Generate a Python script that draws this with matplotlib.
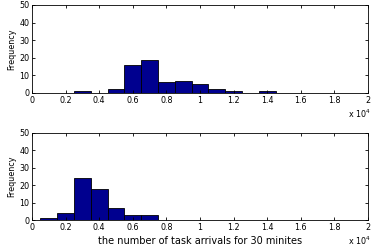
import matplotlib
matplotlib.use("Agg")
import matplotlib.pyplot as plt
from matplotlib.transforms import offset_copy

# Data (bin centers in units of 10^4, counts)
top_centers = [0.3, 0.5, 0.6, 0.7, 0.8, 0.9, 1.0, 1.1, 1.2, 1.4]
top_counts = [1, 2, 16, 19, 6, 7, 5, 2, 1, 1]
bot_centers = [0.1, 0.2, 0.3, 0.4, 0.5, 0.6, 0.7]
bot_counts = [1, 4, 24, 18, 7, 3, 3]
xticks = [0, 0.2, 0.4, 0.6, 0.8, 1.0, 1.2, 1.4, 1.6, 1.8, 2.0]
xticklabels = ["0", "0.2", "0.4", "0.6", "0.8", "1", "1.2", "1.4", "1.6", "1.8", "2"]
yticks = [0, 10, 20, 30, 40, 50]

W, H = 373, 250
fig = plt.figure(figsize=(W / 100, H / 100), dpi=100)
plt.rcParams['font.family'] = ['DejaVu Sans']
fs = 5.8

def setup(ax, centers, counts):
    ax.bar(centers, counts, width=0.1, color='#00008f', edgecolor='black', linewidth=0.6)
    ax.set_xlim(0, 2)
    ax.set_ylim(0, 50)
    ax.set_xticks(xticks)
    ax.set_xticklabels(xticklabels)
    ax.set_yticks(yticks)
    ax.tick_params(direction='in', top=True, right=True, labelsize=fs, length=2.5, width=0.6, pad=2)
    for s in ax.spines.values():
        s.set_linewidth(0.6)
    ax.set_ylabel("Frequency", fontsize=fs, labelpad=2)
    tr = offset_copy(ax.transAxes, fig=fig, x=2, y=-15, units='points')
    ax.text(1.0, 0.0, r"x 10$^{4}$", transform=tr, ha='right', va='center', fontsize=fs)

ax1 = fig.add_axes([32 / W, 1 - 93 / H, (368 - 32) / W, (93 - 5) / H])
setup(ax1, top_centers, top_counts)
ax2 = fig.add_axes([32 / W, 1 - 220 / H, (368 - 32) / W, (220 - 133) / H])
setup(ax2, bot_centers, bot_counts)
ax2.set_xlabel("the number of task arrivals for 30 minites", fontsize=7, labelpad=3)

fig.savefig("out.png", dpi=100)
